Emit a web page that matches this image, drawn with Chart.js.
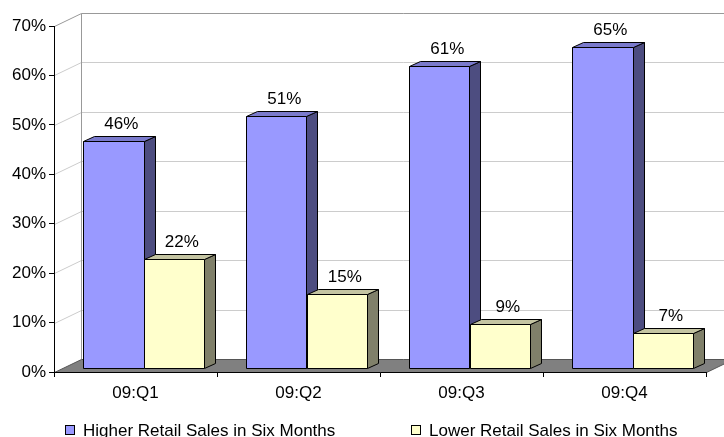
<!DOCTYPE html>
<html>
<head>
<meta charset="utf-8">
<title>Retail Sales Expectations</title>
<script src="https://cdn.jsdelivr.net/npm/chart.js@4.4.1/dist/chart.umd.min.js"></script>
<style>
    html, body { margin: 0; padding: 0; background: #fff; }
    canvas { display: block; }
</style>
</head>
<body>
<canvas id="salesChart" width="724" height="437"></canvas>
<script>
// -------------------- DATA --------------------
const quarters = ["09:Q1", "09:Q2", "09:Q3", "09:Q4"];
const higherSales = [46, 51, 61, 65];
const lowerSales = [22, 15, 9, 7];
const seriesNames = ["Higher Retail Sales in Six Months", "Lower Retail Sales in Six Months"];

// -------------------- STYLE --------------------
const FONT = "'Liberation Sans', Arial, sans-serif";
const faceColors = [
    { front: "#9999ff", side: "#4d4d80", top: "#7a7acc" },
    { front: "#ffffcc", side: "#80806a", top: "#c4c4a2" }
];

// depth of the whole plot box and of a single column
const WALL_DX = 27, WALL_DY = -13;
const BAR_SHIFT_X = 8, BAR_SHIFT_Y = -4;
const BAR_DX = 11, BAR_DY = -5;

Chart.defaults.font.family = FONT;
Chart.defaults.font.size = 17;
Chart.defaults.color = "#000";

function line(ctx, x1, y1, x2, y2, color) {
    ctx.beginPath();
    ctx.moveTo(x1, y1);
    ctx.lineTo(x2, y2);
    ctx.strokeStyle = color;
    ctx.lineWidth = 1;
    ctx.stroke();
}

function poly(ctx, pts, fill) {
    ctx.beginPath();
    ctx.moveTo(pts[0][0], pts[0][1]);
    for (let i = 1; i < pts.length; i++) ctx.lineTo(pts[i][0], pts[i][1]);
    ctx.closePath();
    ctx.fillStyle = fill;
    ctx.fill();
    ctx.strokeStyle = "#000";
    ctx.lineWidth = 1;
    ctx.stroke();
}

// -------------------- WALLS + FLOOR --------------------
const wallsPlugin = {
    id: "walls",
    beforeDraw(chart) {
        const { ctx, chartArea } = chart;
        const y = chart.scales.y;
        const L = chartArea.left + 0.5, R = chartArea.right + 0.5;
        const B = Math.round(y.getPixelForValue(0)) + 0.5;

        ctx.save();
        // gridlines on the back wall and the left side wall
        y.ticks.forEach(t => {
            const py = Math.round(y.getPixelForValue(t.value)) + 0.5;
            const isTop = t.value === y.max;
            const col = isTop ? "#999999" : "#cccccc";
            if (t.value !== 0) {
                line(ctx, L, py, L + WALL_DX, py + WALL_DY, col);
                line(ctx, L + WALL_DX, py + WALL_DY, chart.width + 40, py + WALL_DY, col);
            }
        });
        // left edge of the back wall
        const topY = Math.round(y.getPixelForValue(y.max)) + 0.5;
        line(ctx, L + WALL_DX, topY + WALL_DY, L + WALL_DX, B + WALL_DY, "#999999");

        // floor
        ctx.beginPath();
        ctx.moveTo(L, B);
        ctx.lineTo(R, B);
        ctx.lineTo(R + WALL_DX, B + WALL_DY);
        ctx.lineTo(L + WALL_DX, B + WALL_DY);
        ctx.closePath();
        ctx.fillStyle = "#808080";
        ctx.fill();
        ctx.strokeStyle = "#555555";
        ctx.stroke();
        ctx.restore();
    }
};

// -------------------- 3D COLUMNS + LABELS --------------------
const columnsPlugin = {
    id: "columns3d",
    afterDatasetsDraw(chart) {
        const { ctx } = chart;
        const metas = chart.data.datasets.map((d, i) => chart.getDatasetMeta(i));

        ctx.save();
        quarters.forEach((q, i) => {
            metas.forEach((meta, d) => {
                const bar = meta.data[i];
                const c = faceColors[d];
                const left = Math.round(bar.x - bar.width / 2 + BAR_SHIFT_X) + 0.5;
                const right = Math.round(bar.x + bar.width / 2 + BAR_SHIFT_X) + 0.5;
                const top = Math.round(bar.y + BAR_SHIFT_Y) + 0.5;
                const bottom = Math.round(bar.base + BAR_SHIFT_Y) + 0.5;

                poly(ctx, [[right, top], [right + BAR_DX, top + BAR_DY],
                           [right + BAR_DX, bottom + BAR_DY], [right, bottom]], c.side);
                poly(ctx, [[left, top], [left + BAR_DX, top + BAR_DY],
                           [right + BAR_DX, top + BAR_DY], [right, top]], c.top);
                poly(ctx, [[left, top], [right, top], [right, bottom], [left, bottom]], c.front);
            });
        });

        // value labels
        ctx.fillStyle = "#000";
        ctx.font = "17px " + FONT;
        ctx.textAlign = "center";
        ctx.textBaseline = "alphabetic";
        metas.forEach((meta, d) => {
            const values = chart.data.datasets[d].data;
            meta.data.forEach((bar, i) => {
                ctx.fillText(values[i] + "%", bar.x + BAR_SHIFT_X + 8, bar.y + BAR_SHIFT_Y - 12);
            });
        });
        ctx.restore();
    }
};

// -------------------- LEGEND --------------------
const legendPlugin = {
    id: "bottomLegend",
    afterDraw(chart) {
        const { ctx } = chart;
        const startX = 65, itemStep = 346, cy = 430;
        ctx.save();
        ctx.font = "17px " + FONT;
        ctx.textBaseline = "middle";
        ctx.textAlign = "left";
        chart.data.datasets.forEach((ds, i) => {
            const x = startX + i * itemStep;
            ctx.fillStyle = ds.legendColor;
            ctx.fillRect(x + 0.5, cy - 4.5, 9, 9);
            ctx.strokeStyle = "#000";
            ctx.lineWidth = 1;
            ctx.strokeRect(x + 0.5, cy - 4.5, 9, 9);
            ctx.fillStyle = "#000";
            ctx.fillText(ds.label, x + 18, cy + 1);
        });
        ctx.restore();
    }
};

// -------------------- BUILD CHART --------------------
new Chart(document.getElementById("salesChart"), {
    type: "bar",
    plugins: [wallsPlugin, columnsPlugin, legendPlugin],
    data: {
        labels: quarters,
        datasets: [
            {
                label: seriesNames[0],
                data: higherSales,
                legendColor: faceColors[0].front,
                backgroundColor: "rgba(0,0,0,0)",
                borderWidth: 0
            },
            {
                label: seriesNames[1],
                data: lowerSales,
                legendColor: faceColors[1].front,
                backgroundColor: "rgba(0,0,0,0)",
                borderWidth: 0
            }
        ]
    },
    options: {
        responsive: false,
        devicePixelRatio: 1,
        animation: false,
        events: [],
        categoryPercentage: 0.742,
        barPercentage: 1,
        layout: {
            padding: { top: 26, left: 0, right: 18, bottom: 0 }
        },
        plugins: {
            legend: { display: false },
            tooltip: { enabled: false }
        },
        scales: {
            x: {
                grid: {
                    offset: true,
                    drawOnChartArea: false,
                    tickLength: 5,
                    color: "#000"
                },
                border: { color: "#000" },
                ticks: { padding: 6, font: { size: 17 }, color: "#000" },
                afterFit(scale) { scale.height = 65; }
            },
            y: {
                min: 0,
                max: 70,
                grid: {
                    drawOnChartArea: false,
                    tickLength: 5,
                    color: "#000"
                },
                border: { color: "#000" },
                ticks: {
                    stepSize: 10,
                    padding: 3,
                    font: { size: 17 },
                    color: "#000",
                    callback: v => v + "%"
                },
                afterFit(scale) { scale.width = 54; }
            }
        }
    }
});
</script>
</body>
</html>
